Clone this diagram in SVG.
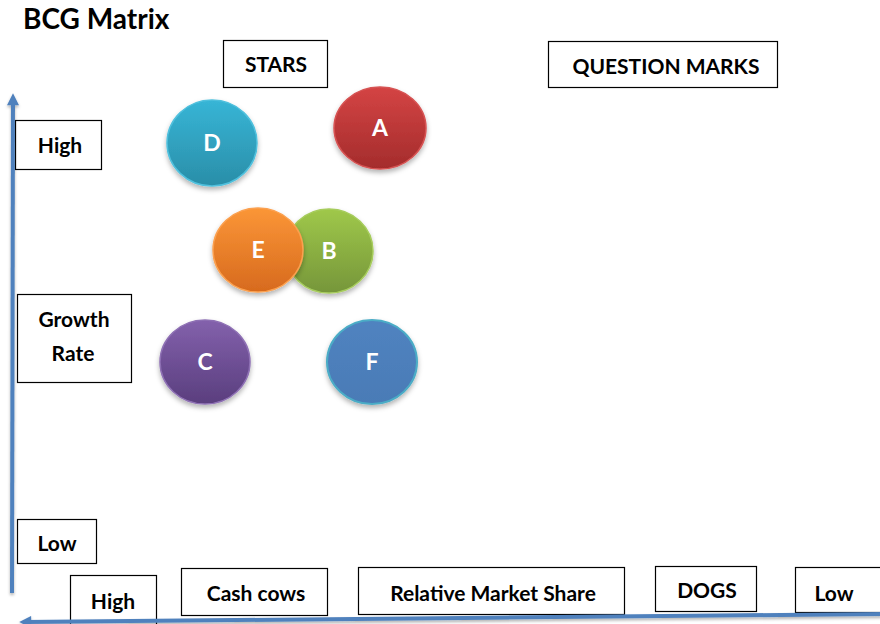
<svg xmlns="http://www.w3.org/2000/svg" width="880" height="624" viewBox="0 0 880 624">
<style>
.box{fill:#fff;stroke:#000;stroke-width:1.2}
.lbl{font-family:Lato,"Liberation Sans",sans-serif;font-weight:bold;font-size:21px;fill:#000;text-anchor:middle}
.cl{font-family:Lato,"Liberation Sans",sans-serif;font-weight:bold;font-size:23px;fill:#fff;text-anchor:middle}
.axis{stroke:#4f81bd;stroke-width:4;fill:none}
</style>
<defs>
<linearGradient id="gD" x1="0" y1="0" x2="0" y2="1"><stop offset="0" stop-color="#37b5d6"/><stop offset="1" stop-color="#2a8ea8"/></linearGradient>
<linearGradient id="gA" x1="0" y1="0" x2="0" y2="1"><stop offset="0" stop-color="#d44444"/><stop offset="1" stop-color="#a42c2c"/></linearGradient>
<linearGradient id="gE" x1="0" y1="0" x2="0" y2="1"><stop offset="0" stop-color="#fb9637"/><stop offset="1" stop-color="#d76a1e"/></linearGradient>
<linearGradient id="gB" x1="0" y1="0" x2="0" y2="1"><stop offset="0" stop-color="#9fc84a"/><stop offset="1" stop-color="#76963a"/></linearGradient>
<linearGradient id="gC" x1="0" y1="0" x2="0" y2="1"><stop offset="0" stop-color="#8361ac"/><stop offset="1" stop-color="#5a3e7e"/></linearGradient>
<linearGradient id="gF" x1="0" y1="0" x2="0" y2="1"><stop offset="0" stop-color="#5083c0"/><stop offset="1" stop-color="#4a7bb6"/></linearGradient>
<filter id="sh" x="-20%" y="-20%" width="140%" height="150%"><feDropShadow dx="0" dy="3" stdDeviation="2.5" flood-color="#000" flood-opacity="0.3"/></filter>
<filter id="ash" filterUnits="userSpaceOnUse" x="0" y="0" width="880" height="624"><feDropShadow dx="0" dy="2" stdDeviation="1.5" flood-color="#000" flood-opacity="0.3"/></filter>
<marker id="ah" viewBox="0 0 10 10" refX="6" refY="5" markerWidth="3.5" markerHeight="3" orient="auto" markerUnits="strokeWidth"><path d="M0,0 L10,5 L0,10 z" fill="#4f81bd"/></marker>
</defs>
<rect width="880" height="624" fill="#fff"/>
<text x="23" y="29" font-family="Lato,'Liberation Sans',sans-serif" font-weight="bold" font-size="28" fill="#000">BCG Matrix</text>

<g id="stars"><rect class="box" x="223.5" y="40.5" width="104" height="47"/><text class="lbl" x="276" y="72">STARS</text></g>
<g id="question-marks"><rect class="box" x="548.5" y="41.5" width="229" height="46"/><text class="lbl" x="666" y="74">QUESTION MARKS</text></g>
<g id="high-y"><rect class="box" x="15.5" y="120.5" width="86" height="49"/><text class="lbl" x="60" y="153">High</text></g>
<g id="growth-rate"><rect class="box" x="17.5" y="294.5" width="114" height="88"/><text class="lbl" x="74" y="327">Growth</text><text class="lbl" x="73" y="361">Rate</text></g>
<g id="low-y"><rect class="box" x="17.5" y="519.5" width="79" height="44"/><text class="lbl" x="57" y="551">Low</text></g>
<g id="high-x"><rect class="box" x="70.5" y="575.5" width="86" height="52"/><text class="lbl" x="113" y="609">High</text></g>
<g id="cash-cows"><rect class="box" x="181.5" y="568.5" width="146" height="47"/><text class="lbl" x="256" y="601">Cash cows</text></g>
<g id="relative-market-share"><rect class="box" x="358.5" y="567.5" width="266" height="47"/><text class="lbl" x="493" y="601">Relative Market Share</text></g>
<g id="dogs"><rect class="box" x="655.5" y="566.5" width="101" height="45"/><text class="lbl" x="707" y="598">DOGS</text></g>
<g id="low-x"><rect class="box" x="795.5" y="567.5" width="88" height="45"/><text class="lbl" x="834" y="601">Low</text></g>

<g id="D"><ellipse cx="212" cy="143" rx="45" ry="43" fill="url(#gD)" stroke="#4fc0dd" stroke-width="1.5" filter="url(#sh)"/><text class="cl" x="212" y="151">D</text></g>
<g id="A"><ellipse cx="380" cy="128" rx="46" ry="41" fill="url(#gA)" stroke="#d65252" stroke-width="1.5" filter="url(#sh)"/><text class="cl" x="380" y="136">A</text></g>
<g id="B"><ellipse cx="329" cy="251" rx="44" ry="42" fill="url(#gB)" stroke="#a6cc5c" stroke-width="1.5" filter="url(#sh)"/><text class="cl" x="329" y="259">B</text></g>
<g id="E"><ellipse cx="258" cy="250" rx="45" ry="42" fill="url(#gE)" stroke="#fba04f" stroke-width="1.5" filter="url(#sh)"/><text class="cl" x="258" y="258">E</text></g>
<g id="C"><ellipse cx="205" cy="362" rx="45" ry="42" fill="url(#gC)" stroke="#8e70b4" stroke-width="1.5" filter="url(#sh)"/><text class="cl" x="205" y="370">C</text></g>
<g id="F"><ellipse cx="372" cy="362" rx="45" ry="42" fill="url(#gF)" stroke="#4bacc6" stroke-width="2" filter="url(#sh)"/><text class="cl" x="372" y="370">F</text></g>

<g id="connectors" filter="url(#ash)">
<path class="axis" d="M12,593 L13,98" marker-end="url(#ah)"/>
<path class="axis" d="M882,614 L24,622" marker-end="url(#ah)"/>
</g>
</svg>
